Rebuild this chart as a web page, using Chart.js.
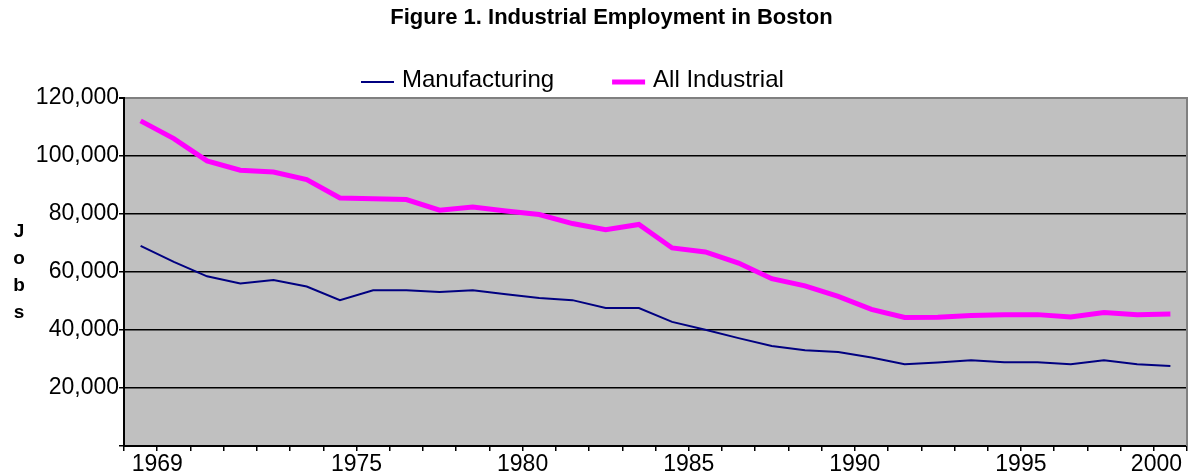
<!DOCTYPE html>
<html>
<head>
<meta charset="utf-8">
<title>Figure 1. Industrial Employment in Boston</title>
<script src="https://cdn.jsdelivr.net/npm/chart.js@4.4.1/dist/chart.umd.min.js"></script>
<style>
  html, body { margin: 0; padding: 0; background: #fff; }
  #wrap { width: 1190px; height: 473px; position: relative; }
</style>
</head>
<body>
<div id="wrap"><canvas id="chart"></canvas></div>
<script>
const years = ["1969", "1970", "1971", "1972", "1973", "1974", "1975", "1976",
  "1977", "1978", "1979", "1980", "1981", "1982", "1983", "1984",
  "1985", "1986", "1987", "1988", "1989", "1990", "1991", "1992",
  "1993", "1994", "1995", "1996", "1997", "1998", "1999", "2000"];
const shownYears = ["1969", "1975", "1980", "1985", "1990", "1995", "2000"];

const manufacturing = [69000, 63500, 58500, 56000, 57200, 55000, 50300, 53700,
  53700, 53100, 53700, 52300, 51000, 50300, 47600, 47600,
  42800, 40100, 37200, 34500, 33000, 32400, 30500, 28200,
  28800, 29600, 28900, 28900, 28200, 29600, 28200, 27600];
const allIndustrial = [112100, 106000, 98300, 95100, 94500, 91900, 85500, 85300,
  85000, 81300, 82400, 81000, 79800, 76700, 74600, 76400,
  68300, 66900, 63100, 57700, 55200, 51600, 47100, 44300,
  44400, 45000, 45300, 45300, 44500, 46000, 45300, 45500];

const yMin = 0;
const yMax = 120000;
const yStep = 20000;

const FONT = "'Liberation Sans', Arial, sans-serif";

// grey plot area, grey right edge, stacked "Jobs" title and the legend row
const chartDecor = {
  id: "chartDecor",
  beforeDraw(chart) {
    const { ctx, chartArea: a } = chart;
    ctx.save();
    ctx.fillStyle = "#c0c0c0";
    ctx.fillRect(a.left, a.top, a.right - a.left, a.bottom - a.top);

    // keep the last year label inside the canvas, the way the original nudges it
    chart.scales.x.getLabelItems().forEach((it) => {
      if (!it.label) return;
      ctx.font = it.font.string;
      const w = ctx.measureText(it.label).width;
      const maxX = chart.width - 8 - w / 2;
      if (it.options.translation[0] > maxX) it.options.translation[0] = maxX;
    });
    ctx.restore();
  },
  afterDraw(chart) {
    const { ctx, chartArea: a } = chart;
    ctx.save();

    ctx.strokeStyle = "#808080";
    ctx.lineWidth = 2;
    ctx.beginPath();
    ctx.moveTo(a.right, a.top - 1);
    ctx.lineTo(a.right, a.bottom);
    ctx.stroke();

    // y axis title, one letter per line
    const mid = (a.top + a.bottom) / 2;
    ctx.fillStyle = "#000";
    ctx.font = "bold 19px " + FONT;
    ctx.textAlign = "center";
    ctx.textBaseline = "alphabetic";
    "Jobs".split("").forEach((ch, i) => {
      ctx.fillText(ch, 19, mid - 35 + i * 27);
    });

    // legend
    ctx.font = "24px " + FONT;
    ctx.textAlign = "left";
    let x = 361;
    const ly = 82;
    chart.data.datasets.forEach((ds) => {
      ctx.strokeStyle = ds.borderColor;
      ctx.lineWidth = ds.borderWidth;
      ctx.beginPath();
      ctx.moveTo(x, ly);
      ctx.lineTo(x + 33, ly);
      ctx.stroke();
      ctx.fillStyle = "#000";
      ctx.fillText(ds.label, x + 41, ly + 5);
      x += 41 + ctx.measureText(ds.label).width + 58;
    });

    ctx.restore();
  }
};

const ctx = document.getElementById("chart").getContext("2d");
new Chart(ctx, {
  type: "line",
  data: {
    labels: years,
    datasets: [
      {
        label: "Manufacturing",
        data: manufacturing,
        borderColor: "#000080",
        borderWidth: 2,
        pointRadius: 0,
        pointHoverRadius: 0,
        tension: 0,
        fill: false
      },
      {
        label: "All Industrial",
        data: allIndustrial,
        borderColor: "#ff00ff",
        borderWidth: 5,
        pointRadius: 0,
        pointHoverRadius: 0,
        tension: 0,
        fill: false
      }
    ]
  },
  options: {
    responsive: true,
    maintainAspectRatio: false,
    animation: false,
    devicePixelRatio: 1,
    layout: { padding: { left: 36, right: 3, top: 0, bottom: 0 } },
    plugins: {
      legend: { display: false },
      tooltip: { enabled: false },
      title: {
        display: true,
        text: "Figure 1. Industrial Employment in Boston",
        color: "#000",
        font: { family: FONT, size: 22, weight: "bold" },
        padding: { top: 5, bottom: 66.6 }
      }
    },
    scales: {
      x: {
        offset: true,
        grid: {
          offset: true,
          drawOnChartArea: false,
          drawTicks: true,
          tickLength: 5,
          color: "#000",
          lineWidth: 1.5
        },
        border: { color: "#000", width: 2 },
        ticks: {
          autoSkip: false,
          maxRotation: 0,
          minRotation: 0,
          padding: 0,
          labelOffset: 16.6,
          color: "#000",
          font: { family: FONT, size: 23 },
          callback: (value, index) => shownYears.includes(years[index]) ? years[index] : ""
        },
        afterFit: (scale) => {
          scale.height = 27;
          scale.paddingLeft = 0;
          scale.paddingRight = 0;
        }
      },
      y: {
        min: yMin,
        max: yMax,
        grid: {
          color: (c) => (c.tick && c.tick.value === yMax ? "#808080" : "#000"),
          lineWidth: (c) => (c.tick && c.tick.value === yMax ? 2 : 1.5),
          tickColor: "#000",
          tickLength: 5
        },
        border: { color: "#000", width: 2 },
        ticks: {
          stepSize: yStep,
          padding: 0,
          color: "#000",
          font: { family: FONT, size: 23 },
          callback: (value) => (value === 0 ? "" : value.toLocaleString("en-US"))
        },
        afterFit: (scale) => {
          scale.width = 88;
        }
      }
    }
  },
  plugins: [chartDecor]
});
</script>
</body>
</html>
